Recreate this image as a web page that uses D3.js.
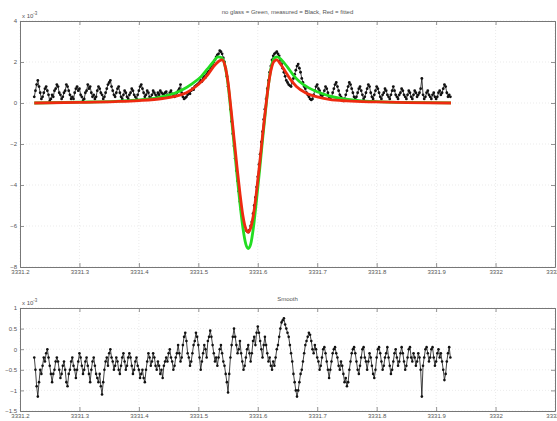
<!DOCTYPE html>
<html>
<head>
<meta charset="utf-8">
<script src="https://cdn.jsdelivr.net/npm/d3@7"></script>
<style>
  body { margin: 0; background: #fff; }
  svg { display: block; }
</style>
</head>
<body>
<div id="chart"></div>
<script>
// ---------------- data (values in units of 1e-3) ----------------
var sampleStart = 3331.224;
var sampleStep = 0.002;

var measured = [
  0.3, 0.6, 0.9, 1.1, 0.8, 0.5, 0.2, 0.3, 0.5, 0.7,
  0.8, 0.6, 0.4, 0.1, 0.2, 0.4, 0.3, 0.6, 0.7, 0.9,
  0.8, 0.5, 0.4, 0.2, 0.3, 0.5, 0.6, 0.9, 0.8, 0.6,
  0.4, 0.2, 0.3, 0.2, 0.5, 0.7, 0.8, 0.6, 0.7, 0.4,
  0.3, 0.1, 0.2, 0.5, 0.6, 0.9, 0.7, 0.8, 0.5, 0.3,
  0.4, 0.2, 0.3, 0.6, 0.8, 0.7, 0.5, 0.4, 0.2, 0.3,
  0.5, 0.7, 0.9, 1.0, 1.1, 0.8, 0.6, 0.4, 0.3, 0.5,
  0.7, 0.8, 0.5, 0.3, 0.2, 0.4, 0.6, 0.5, 0.3, 0.2,
  0.4, 0.5, 0.7, 0.6, 0.4, 0.3, 0.2, 0.4, 0.6, 0.8,
  0.9, 0.7, 0.5, 0.3, 0.4, 0.6, 0.5, 0.3, 0.2, 0.4,
  0.6, 0.5, 0.4, 0.3, 0.5, 0.4, 0.6, 0.5,
  0.45, 0.4, 0.5, 0.55, 0.4, 0.35, 0.5, 0.6, 0.45, 0.4,
  0.3, 0.35, 0.5, 0.6, 0.7, 0.9, 0.5, 0.3, 0.2, 0.25,
  0.3, 0.4, 0.5, 0.45, 0.6, 0.7, 0.65, 0.8, 0.85, 0.9,
  0.95, 1.0, 1.1, 1.05, 1.2, 1.3, 1.25, 1.4, 1.5, 1.55,
  1.7, 1.8, 1.9, 2.0, 2.1, 2.25, 2.35, 2.4, 2.55, 2.5,
  2.4, 2.2, 2.0, 1.7, 1.3, 0.8, 0.3, -0.3, -0.9, -1.5,
  -2.1, -2.7, -3.3, -3.8, -4.3, -4.8, -5.2, -5.5, -5.8, -6.0,
  -6.2, -6.25, -6.3, -6.2, -6.0, -5.8, -5.4, -5.0, -4.6, -4.1,
  -3.6, -3.0, -2.5, -1.9, -1.4, -0.8, -0.3, 0.2, 0.7, 1.1,
  1.5, 1.8, 2.1, 2.3, 2.4, 2.45, 2.5, 2.4, 2.3, 2.1,
  1.9, 1.7, 1.5, 1.3, 1.1, 1.0, 0.9, 0.85, 0.8, 1.0,
  1.2, 1.4, 1.6, 1.8, 1.9, 1.7, 1.5, 1.2, 1.0, 0.8,
  0.7, 0.5, 0.4, 0.3, 0.2, 0.15, 0.2, 0.4, 0.6, 0.8,
  0.9, 0.7, 0.6, 0.4, 0.3, 0.4, 0.6, 0.8, 0.7, 0.5,
  0.3, 0.2, 0.3, 0.5, 0.7, 0.9, 1.0, 0.8, 0.6, 0.4,
  0.3, 0.2, 0.1, 0.2, 0.4, 0.6, 0.8, 1.0, 0.9, 0.7,
  0.5, 0.3, 0.2, 0.3, 0.5, 0.7, 0.8, 0.6, 0.4, 0.2,
  0.3, 0.5, 0.7, 0.9, 0.8, 0.5, 0.3, 0.2, 0.4, 0.6,
  0.8, 0.7, 0.5, 0.3, 0.2, 0.4, 0.5, 0.7, 0.6, 0.4,
  0.3, 0.2, 0.4, 0.6, 0.8, 0.6, 0.4, 0.3, 0.2, 0.4,
  0.5, 0.7, 0.6, 0.4, 0.3, 0.2, 0.4, 0.6, 0.5, 0.3,
  0.2, 0.4, 0.6, 0.5, 0.3, 0.4, 0.5, 0.7, 1.2, 0.4,
  0.2, 0.3, 0.5, 0.6, 0.4, 0.3, 0.2, 0.4, 0.5, 0.3,
  0.2, 0.3, 0.5, 0.6, 0.4, 0.5, 0.7, 0.9, 0.8, 0.5,
  0.3, 0.4, 0.3
];

var residual = [
  -0.2, -0.5, -0.9, -1.15, -0.8, -0.5, -0.6, -0.4, -0.2, -0.3,
  -0.1, 0.0, -0.2, -0.4, -0.6, -0.8, -0.6, -0.5, -0.3, -0.2,
  -0.3, -0.5, -0.7, -0.6, -0.4, -0.3, -0.5, -0.8, -0.9, -0.6,
  -0.5, -0.3, -0.2, -0.4, -0.5, -0.7, -0.5, -0.3, -0.1, -0.2,
  -0.4, -0.6, -0.5, -0.3, -0.2, -0.4, -0.6, -0.8, -0.5, -0.3,
  -0.2, -0.4, -0.6, -0.7, -0.8, -0.6, -0.9, -1.1, -0.8, -0.5,
  -0.3, -0.2, -0.4, -0.1, 0.0, -0.2, -0.3, -0.5, -0.4, -0.2,
  -0.3, -0.5, -0.6, -0.4, -0.2, -0.1, -0.3, -0.5, -0.4, -0.2,
  -0.1, -0.2, -0.4, -0.6, -0.5, -0.3, -0.2, -0.4, -0.5, -0.7,
  -0.6, -0.5, -0.7, -0.8, -0.5, -0.3, -0.1, -0.2, -0.4, -0.3,
  -0.1, -0.2, -0.4, -0.5, -0.3, -0.4, -0.6, -0.5, -0.7, -0.4,
  -0.3, -0.2, -0.3, -0.1, 0.0, -0.2, -0.3, -0.5, -0.4, -0.2,
  -0.1, 0.1, -0.1, -0.3, -0.2, 0.1, 0.3, 0.4, 0.2, -0.1,
  -0.2, -0.4, -0.3, -0.1, 0.1, 0.2, 0.4, 0.3, 0.1, -0.2,
  -0.5, -0.3, -0.1, 0.1, 0.0, -0.2, 0.2, 0.3, 0.45, 0.3,
  0.1, -0.1, -0.3, -0.2, -0.4, -0.2, 0.0, 0.1, -0.1, -0.3,
  -0.4, -0.6, -0.8, -1.05, -0.6, -0.2, 0.1, 0.3, 0.5, 0.3,
  0.1, -0.1, 0.0, 0.2, -0.1, -0.3, -0.5, -0.4, -0.2, 0.0,
  0.1, -0.1, -0.3, -0.1, 0.2, 0.3, 0.1, 0.4, 0.55, 0.4,
  0.2, 0.0, -0.2, 0.1, 0.3, 0.1, -0.1, -0.3, -0.2, -0.4,
  -0.5, -0.3, -0.4, -0.2, 0.0, 0.1, 0.3, 0.5, 0.65, 0.7,
  0.75, 0.6, 0.5, 0.4, 0.3, 0.1, -0.1, -0.3, -0.6, -0.8,
  -1.0, -1.15, -1.0, -0.8, -0.6, -0.5, -0.3, -0.1, 0.1, 0.2,
  0.3, 0.4, 0.35, 0.2, 0.0, -0.1, 0.1, 0.0, -0.2, -0.3,
  -0.5, -0.4, -0.2, 0.0, 0.05, -0.1, -0.3, -0.5, -0.7, -0.5,
  -0.3, -0.1, 0.0, 0.05, -0.1, -0.2, -0.4, -0.5, -0.3, -0.4,
  -0.6, -0.8, -0.7, -0.9, -0.8, -0.5, -0.3, -0.1, 0.0, 0.05,
  -0.1, -0.3, -0.5, -0.6, -0.4, -0.2, 0.0, 0.05, -0.2, -0.3,
  -0.5, -0.3, -0.1, -0.2, -0.4, -0.6, -0.7, -0.5, -0.2, 0.0,
  0.05, -0.1, -0.3, -0.5, -0.4, -0.2, -0.1, 0.05, -0.2, -0.4,
  -0.6, -0.5, -0.3, -0.1, 0.0, -0.2, -0.4, -0.3, -0.1, 0.05,
  -0.1, -0.3, -0.5, -0.4, -0.2, 0.0, 0.05, -0.2, -0.3, -0.1,
  -0.2, -0.4, -0.3, -0.1, -0.2, -0.5, -1.15, -0.4, -0.2, 0.0,
  0.05, -0.1, -0.3, -0.2, 0.0, 0.05, -0.2, -0.4, -0.3, -0.1,
  0.0, -0.2, -0.1, -0.3, -0.5, -0.75, -0.6, -0.3, -0.1, 0.05,
  -0.2
];

// fitted curve (red)
var fitX = [3331.224, 3331.30, 3331.36, 3331.40, 3331.44, 3331.46, 3331.48, 3331.50, 3331.515, 3331.525,
  3331.535, 3331.540, 3331.545, 3331.55, 3331.555, 3331.56, 3331.565, 3331.57, 3331.575, 3331.58,
  3331.584, 3331.588, 3331.593, 3331.598, 3331.603, 3331.608, 3331.613, 3331.618, 3331.623, 3331.628,
  3331.632, 3331.637, 3331.645, 3331.655, 3331.665, 3331.68, 3331.70, 3331.72, 3331.75, 3331.80,
  3331.85, 3331.925];
var fitY = [0.0, 0.03, 0.07, 0.12, 0.22, 0.32, 0.5, 0.9, 1.35, 1.75,
  2.05, 2.1, 1.8, 1.0, -0.3, -1.7, -3.1, -4.4, -5.5, -6.15,
  -6.3, -6.1, -5.4, -4.3, -3.0, -1.6, -0.3, 0.9, 1.7, 2.05,
  2.1, 1.95, 1.6, 1.15, 0.8, 0.5, 0.3, 0.18, 0.1, 0.05,
  0.02, 0.0];

// no glass curve (green)
var glassX = [3331.224, 3331.30, 3331.36, 3331.40, 3331.43, 3331.45, 3331.47, 3331.49, 3331.505, 3331.515,
  3331.525, 3331.533, 3331.540, 3331.545, 3331.55, 3331.555, 3331.56, 3331.565, 3331.57, 3331.575,
  3331.58, 3331.584, 3331.588, 3331.593, 3331.598, 3331.603, 3331.608, 3331.613, 3331.618, 3331.623,
  3331.628, 3331.633, 3331.64, 3331.65, 3331.66, 3331.67, 3331.685, 3331.70, 3331.72, 3331.74,
  3331.77, 3331.80, 3331.85, 3331.925];
var glassY = [0.0, 0.04, 0.08, 0.15, 0.25, 0.38, 0.6, 0.95, 1.3, 1.65,
  2.0, 2.25, 2.2, 1.8, 0.9, -0.5, -2.0, -3.5, -4.9, -6.1,
  -6.9, -7.1, -6.9, -6.0, -4.7, -3.3, -1.8, -0.4, 0.9, 1.8,
  2.2, 2.25, 2.1, 1.75, 1.35, 1.05, 0.75, 0.55, 0.35, 0.22,
  0.12, 0.07, 0.03, 0.01];

var xTicks = [3331.2, 3331.3, 3331.4, 3331.5, 3331.6, 3331.7, 3331.8, 3331.9, 3332, 3332.1];
var topYTicks = [4, 2, 0, -2, -4, -6, -8];
var bottomYTicks = [1, 0.5, 0, -0.5, -1, -1.5];

var topTitle = 'no glass = Green, measured = Black, Red = fitted';
var bottomTitle = 'Smooth';

// ---------------- chart ----------------
var attrs = {
  width: 557,
  height: 421,
  left: 20,
  right: 555,
  textColor: '#555',
  axisColor: '#777',
  gridColor: '#ddd',
  font: 'Liberation Sans, Arial, sans-serif',
  fontSize: 6
};

var svg = d3.select('#chart').append('svg')
  .attr('width', attrs.width)
  .attr('height', attrs.height)
  .attr('font-family', attrs.font);

var x = d3.scaleLinear().domain([3331.2, 3332.1]).range([attrs.left, attrs.right]);

function sampleX(i) { return sampleStart + i * sampleStep; }

function drawPanel(p) {
  var y = d3.scaleLinear().domain(p.yDomain).range([p.bottom, p.top]);
  var g = svg.append('g').attr('class', p.cls);

  // grid
  g.append('g').selectAll('line').data(xTicks).join('line')
    .attr('x1', d => x(d)).attr('x2', d => x(d))
    .attr('y1', p.top).attr('y2', p.bottom)
    .attr('stroke', attrs.gridColor).attr('stroke-width', 0.6)
    .attr('stroke-dasharray', '1,2');
  g.append('g').selectAll('line').data(p.yTicks).join('line')
    .attr('x1', attrs.left).attr('x2', attrs.right)
    .attr('y1', d => y(d)).attr('y2', d => y(d))
    .attr('stroke', attrs.gridColor).attr('stroke-width', 0.6)
    .attr('stroke-dasharray', '1,2');

  // axes (MATLAB-like, ticks inward on all sides)
  var axB = d3.axisBottom(x).tickValues(xTicks).tickSizeInner(-4).tickSizeOuter(0)
    .tickFormat(d => d3.format('')(+d.toFixed(1)));
  var axT = d3.axisTop(x).tickValues(xTicks).tickSizeInner(-4).tickSizeOuter(0).tickFormat('');
  var axL = d3.axisLeft(y).tickValues(p.yTicks).tickSizeInner(-4).tickSizeOuter(0)
    .tickFormat(d => d3.format('')(d));
  var axR = d3.axisRight(y).tickValues(p.yTicks).tickSizeInner(-4).tickSizeOuter(0).tickFormat('');

  [[axB, 'translate(0,' + p.bottom + ')'], [axT, 'translate(0,' + p.top + ')'],
   [axL, 'translate(' + attrs.left + ',0)'], [axR, 'translate(' + attrs.right + ',0)']]
    .forEach(function (a) {
      var ag = g.append('g').attr('transform', a[1]).call(a[0]);
      ag.select('.domain').attr('stroke', attrs.axisColor);
      ag.selectAll('.tick line').attr('stroke', attrs.axisColor).attr('stroke-width', 0.8);
      ag.selectAll('.tick text').attr('fill', attrs.textColor)
        .attr('font-size', attrs.fontSize).attr('font-family', attrs.font);
    });

  // exponent label
  var ex = g.append('text').attr('x', attrs.left + 2).attr('y', p.top - 3)
    .attr('fill', attrs.textColor).attr('font-size', attrs.fontSize);
  ex.append('tspan').text('x 10');
  ex.append('tspan').attr('dy', -3).attr('font-size', 4.5).text('-3');

  // title
  g.append('text').attr('x', (attrs.left + attrs.right) / 2).attr('y', p.top - 7)
    .attr('text-anchor', 'middle').attr('fill', attrs.textColor)
    .attr('font-size', attrs.fontSize).text(p.title);

  var plot = g.append('g');
  var line = d3.line().x(d => x(d[0])).y(d => y(d[1]));

  p.curves.forEach(function (c) {
    var pts = c.xs.map((v, i) => [v, c.ys[i]]);
    plot.append('path').datum(pts)
      .attr('fill', 'none').attr('stroke', c.color).attr('stroke-width', c.width)
      .attr('stroke-linejoin', 'round')
      .attr('d', line.curve(c.smooth ? d3.curveMonotoneX : d3.curveLinear));
    if (c.dots) {
      plot.append('g').selectAll('circle').data(pts).join('circle')
        .attr('cx', d => x(d[0])).attr('cy', d => y(d[1]))
        .attr('r', c.dotR).attr('fill', c.color);
    }
  });
}

var topPanel = {
  cls: 'top', top: 21, bottom: 267, yDomain: [-8, 4], yTicks: topYTicks, title: topTitle,
  curves: [
    { xs: measured.map((v, i) => sampleX(i)), ys: measured, color: '#111', width: 0.8, dots: true, dotR: 1.4 },
    { xs: glassX, ys: glassY, color: '#22dd22', width: 2.8, smooth: true },
    { xs: fitX, ys: fitY, color: '#ee2a10', width: 2.8, smooth: true }
  ]
};

var bottomPanel = {
  cls: 'bottom', top: 308, bottom: 411, yDomain: [-1.5, 1], yTicks: bottomYTicks, title: bottomTitle,
  curves: [
    { xs: residual.map((v, i) => sampleX(i)), ys: residual, color: '#111', width: 0.8, dots: true, dotR: 1.3 }
  ]
};

drawPanel(topPanel);
drawPanel(bottomPanel);
</script>
</body>
</html>
